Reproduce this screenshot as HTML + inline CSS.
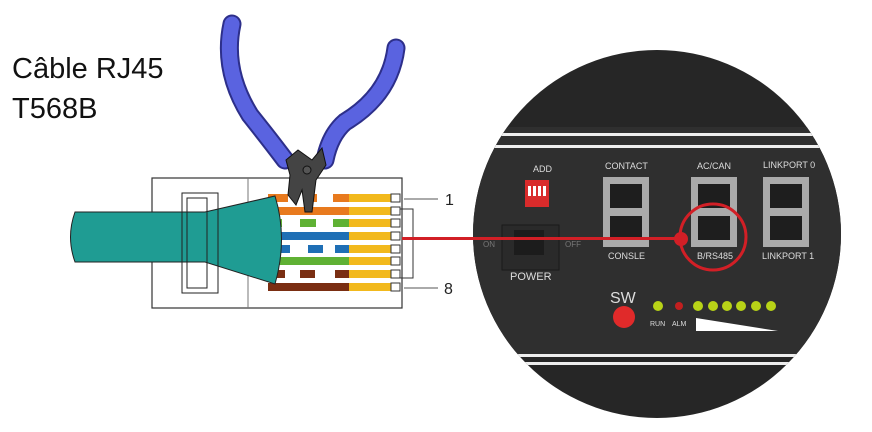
<!DOCTYPE html>
<html><head><meta charset="utf-8"><style>
body{margin:0;background:#fff;width:872px;height:432px;overflow:hidden}
svg{display:block}
</style></head><body>
<svg width="872" height="432" viewBox="0 0 872 432" xmlns="http://www.w3.org/2000/svg" font-family="Liberation Sans, sans-serif">
<defs><clipPath id="c"><circle cx="657" cy="234" r="184"/></clipPath></defs>
<text x="12" y="78" font-size="29" fill="#111">Câble RJ45</text>
<text x="12" y="118" font-size="29" fill="#111">T568B</text>

<!-- plug -->
<rect x="152" y="178" width="250" height="130" fill="#fff" stroke="#333" stroke-width="1.2"/>
<line x1="248" y1="178" x2="248" y2="308" stroke="#777"/>
<g>
<rect x="268" y="194" width="81" height="8" fill="#fff"/><rect x="268" y="194" width="20" height="8" fill="#e87a1e"/><rect x="305" y="194" width="12" height="8" fill="#e87a1e"/><rect x="333" y="194" width="16" height="8" fill="#e87a1e"/>
<rect x="268" y="207" width="81" height="8" fill="#e87a1e"/>
<rect x="268" y="219" width="81" height="8" fill="#fff"/><rect x="270" y="219" width="12" height="8" fill="#5fb134"/><rect x="300" y="219" width="16" height="8" fill="#5fb134"/><rect x="333" y="219" width="16" height="8" fill="#5fb134"/>
<rect x="268" y="232" width="81" height="8" fill="#1f6fb5"/>
<rect x="268" y="245" width="81" height="8" fill="#fff"/><rect x="275" y="245" width="15" height="8" fill="#1f6fb5"/><rect x="308" y="245" width="15" height="8" fill="#1f6fb5"/><rect x="335" y="245" width="14" height="8" fill="#1f6fb5"/>
<rect x="268" y="257" width="81" height="8" fill="#5fb134"/>
<rect x="268" y="270" width="81" height="8" fill="#fff"/><rect x="270" y="270" width="15" height="8" fill="#7a2e12"/><rect x="300" y="270" width="15" height="8" fill="#7a2e12"/><rect x="335" y="270" width="14" height="8" fill="#7a2e12"/>
<rect x="268" y="283" width="81" height="8" fill="#7a2e12"/>
</g>
<g fill="#f2b91d">
<rect x="349" y="194" width="42" height="8"/><rect x="349" y="207" width="42" height="8"/><rect x="349" y="219" width="42" height="8"/><rect x="349" y="232" width="42" height="8"/><rect x="349" y="245" width="42" height="8"/><rect x="349" y="257" width="42" height="8"/><rect x="349" y="270" width="42" height="8"/><rect x="349" y="283" width="42" height="8"/>
</g>
<g stroke="#333" fill="none" stroke-width="1">
<rect x="391" y="194" width="9" height="8"/><rect x="391" y="207" width="9" height="8"/><rect x="391" y="219" width="9" height="8"/><rect x="391" y="232" width="9" height="8"/><rect x="391" y="245" width="9" height="8"/><rect x="391" y="257" width="9" height="8"/><rect x="391" y="270" width="9" height="8"/><rect x="391" y="283" width="9" height="8"/>
<polyline points="400,209 413,209 413,278 400,278"/>
<line x1="404" y1="199" x2="438" y2="199" stroke="#555"/>
<line x1="404" y1="288" x2="438" y2="288" stroke="#555"/>
</g>
<text x="445" y="205" font-size="16" fill="#222">1</text>
<text x="444" y="294" font-size="16" fill="#222">8</text>
<!-- cable -->
<path d="M75,212 L205,212 L275,196 Q288,238 275,284 L205,262 L75,262 Q66,237 75,212Z" fill="#1f9c93" stroke="#222" stroke-width="1"/>
<rect x="182" y="193" width="36" height="100" fill="none" stroke="#222"/>
<rect x="187" y="198" width="20" height="90" fill="none" stroke="#222"/>
<!-- pliers -->
<path d="M232,24 Q222,70 250,115 Q270,140 285,160" fill="none" stroke="#2d2f8a" stroke-width="19" stroke-linecap="round"/>
<path d="M232,24 Q222,70 250,115 Q270,140 285,160" fill="none" stroke="#5a63e0" stroke-width="15" stroke-linecap="round"/>
<path d="M396,48 Q390,95 345,122 Q330,135 325,160" fill="none" stroke="#2d2f8a" stroke-width="19" stroke-linecap="round"/>
<path d="M396,48 Q390,95 345,122 Q330,135 325,160" fill="none" stroke="#5a63e0" stroke-width="15" stroke-linecap="round"/>
<path d="M286,160 L298,150 L312,160 L322,148 L326,165 L316,180 L312,212 L305,212 L302,190 L296,205 L288,195 L290,175Z" fill="#444" stroke="#111"/>
<circle cx="307" cy="170" r="4" fill="#555" stroke="#111"/>

<!-- device circle -->
<circle cx="657" cy="234" r="184" fill="#262626"/>
<g clip-path="url(#c)">
<rect x="470" y="127" width="380" height="228" fill="#2f2f2f"/>
<rect x="470" y="133" width="380" height="3" fill="#eee"/>
<rect x="470" y="145" width="380" height="3" fill="#eee"/>
<rect x="470" y="354" width="380" height="3" fill="#eee"/>
<rect x="470" y="362" width="380" height="3" fill="#eee"/>
</g>
<g fill="#ddd" font-size="9">
<text x="533" y="172">ADD</text>
<text x="605" y="169">CONTACT</text>
<text x="697" y="169">AC/CAN</text>
<text x="763" y="168">LINKPORT 0</text>
<text x="608" y="259">CONSLE</text>
<text x="697" y="259">B/RS485</text>
<text x="762" y="259">LINKPORT 1</text>
<text x="510" y="280" font-size="11">POWER</text>
<text x="483" y="247" font-size="8" fill="#777">ON</text>
<text x="565" y="247" font-size="8" fill="#777">OFF</text>
<text x="610" y="303" font-size="16">SW</text>
<text x="650" y="326" font-size="7">RUN</text>
<text x="672" y="326" font-size="7">ALM</text>
</g>
<rect x="525" y="180" width="24" height="27" fill="#d92b2b"/>
<g fill="#fff"><rect x="528" y="186" width="3" height="10"/><rect x="533" y="186" width="3" height="10"/><rect x="538" y="186" width="3" height="10"/><rect x="543" y="186" width="3" height="10"/></g>
<rect x="502" y="225" width="57" height="45" fill="#2a2a2a" stroke="#1a1a1a"/>
<rect x="514" y="230" width="30" height="25" fill="#1c1c1c"/>
<g fill="#aaa">
<rect x="603" y="177" width="46" height="70"/><rect x="691" y="177" width="46" height="70"/><rect x="763" y="177" width="46" height="70"/>
</g>
<g fill="#1e1e1e">
<rect x="610" y="184" width="32" height="24"/><rect x="610" y="216" width="32" height="24"/>
<rect x="698" y="184" width="32" height="24"/><rect x="698" y="216" width="32" height="24"/>
<rect x="770" y="184" width="32" height="24"/><rect x="770" y="216" width="32" height="24"/>
</g>
<circle cx="624" cy="317" r="11" fill="#e02a2a"/>
<circle cx="658" cy="306" r="5" fill="#b8d317"/>
<circle cx="679" cy="306" r="4" fill="#c21f1f"/>
<g fill="#b8d317"><circle cx="698" cy="306" r="5"/><circle cx="713" cy="306" r="5"/><circle cx="727" cy="306" r="5"/><circle cx="741" cy="306" r="5"/><circle cx="756" cy="306" r="5"/><circle cx="771" cy="306" r="5"/></g>
<polygon points="696,318 696,331 778,331" fill="#fff"/>

<line x1="402" y1="238.5" x2="680" y2="238.5" stroke="#d21f26" stroke-width="3"/>
<circle cx="681" cy="239" r="7" fill="#d21f26"/>
<circle cx="713" cy="237" r="33" fill="none" stroke="#d21f26" stroke-width="3"/>
</svg>
</body></html>
